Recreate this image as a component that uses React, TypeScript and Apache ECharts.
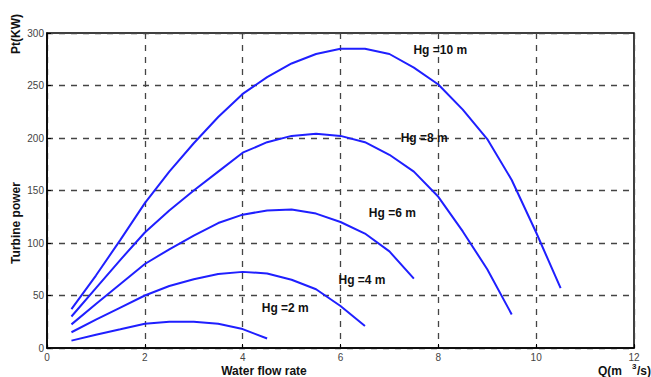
import React, { useEffect, useRef } from "react";
import * as echarts from "echarts";

const flowRates = [0.5, 1, 1.5, 2, 2.5, 3, 3.5, 4, 4.5, 5, 5.5, 6, 6.5, 7, 7.5, 8, 8.5, 9, 9.5, 10, 10.5];

const hg10 = [37, 69, 103, 138, 168, 195, 220, 242, 258, 271, 280, 285, 285, 280, 267, 251, 227, 199, 160, 110, 57];
const hg8 = [30, 57, 84, 110, 131, 150, 168, 186, 196, 202, 204, 202, 196, 184, 168, 144, 111, 75, 32];
const hg6 = [22.5, 42, 61, 80, 94, 107, 119, 127, 131, 132, 128, 120, 109, 92, 66];
const hg4 = [15, 27, 38.5, 50, 59, 65.5, 70.5, 72.5, 71, 65, 56, 40, 21];
const hg2 = [7, 12.7, 17.8, 23, 25, 25, 23, 18, 9];

const seriesNames = ["Hg =10 m", "Hg =8 m", "Hg =6 m", "Hg =4 m", "Hg =2 m"];
const seriesValues = [hg10, hg8, hg6, hg4, hg2];
const labelCoords: [number, number][] = [
  [8.04, 284],
  [7.71, 200],
  [7.06, 129],
  [6.44, 65],
  [4.87, 38],
];

const xTicks = [0, 2, 4, 6, 8, 10, 12];

export default function App() {
  const ref = useRef<HTMLDivElement>(null);
  useEffect(() => {
    document.body.style.margin = "0";
    if (!ref.current) return;
    const chart = echarts.init(ref.current, null, { renderer: "svg" });
    const font = "'Liberation Sans', Arial, sans-serif";
    const series = seriesValues.map((vals, i) => ({
      type: "line",
      name: seriesNames[i],
      data: vals.map((v, j) => [flowRates[j], v]),
      showSymbol: false,
      smooth: false,
      lineStyle: { color: "#1f1fff", width: 2 },
      markPoint: {
        symbol: "circle",
        symbolSize: 0,
        silent: true,
        label: {
          show: true,
          position: "inside",
          formatter: seriesNames[i],
          color: "#111",
          fontSize: 12,
          fontWeight: "bold",
          fontFamily: font,
        },
        data: [{ coord: labelCoords[i] }],
      },
    }));
    chart.setOption({
      animation: false,
      backgroundColor: "#fff",
      grid: {
        left: 47,
        right: 17,
        top: 33,
        bottom: 29,
        show: true,
        borderColor: "#000",
        borderWidth: 1.5,
      },
      xAxis: {
        type: "value",
        min: 0,
        max: 12,
        interval: 2,
        axisLine: { show: true, lineStyle: { color: "#000", width: 1.5 } },
        axisTick: { show: true, inside: true, length: 4, lineStyle: { color: "#000" } },
        axisLabel: {
          color: "#444",
          fontSize: 10,
          fontFamily: font,
          margin: 4,
          formatter: (v: number) => (xTicks.includes(v) ? String(v) : ""),
        },
        splitLine: {
          show: true,
          lineStyle: { color: "#444", type: [6, 6], width: 1.3 },
        },
      },
      yAxis: {
        type: "value",
        min: 0,
        max: 300,
        interval: 50,
        axisLine: { show: true, lineStyle: { color: "#000", width: 1.5 } },
        axisTick: { show: true, inside: true, length: 4, lineStyle: { color: "#000" } },
        axisLabel: { color: "#444", fontSize: 10, fontFamily: font, margin: 3 },
        splitLine: {
          show: true,
          lineStyle: { color: "#444", type: [6, 6], width: 1.3 },
        },
      },
      graphic: [
        {
          type: "text",
          x: 16,
          y: 223,
          rotation: Math.PI / 2,
          style: {
            text: "Turbine power",
            font: `bold 12px ${font}`,
            fill: "#111",
            align: "center",
            verticalAlign: "middle",
          },
        },
        {
          type: "text",
          x: 16,
          y: 34,
          rotation: Math.PI / 2,
          style: {
            text: "Pt(KW)",
            font: `bold 12px ${font}`,
            fill: "#111",
            align: "center",
            verticalAlign: "middle",
          },
        },
        {
          type: "text",
          x: 264,
          y: 371,
          style: {
            text: "Water flow rate",
            font: `bold 12px ${font}`,
            fill: "#111",
            align: "center",
            verticalAlign: "middle",
          },
        },
        {
          type: "text",
          x: 598,
          y: 371,
          style: {
            text: "Q(m",
            font: `bold 12px ${font}`,
            fill: "#111",
            align: "left",
            verticalAlign: "middle",
          },
        },
        {
          type: "text",
          x: 632,
          y: 366,
          style: {
            text: "3",
            font: `bold 8px ${font}`,
            fill: "#111",
            align: "left",
            verticalAlign: "middle",
          },
        },
        {
          type: "text",
          x: 637,
          y: 371,
          style: {
            text: "/s)",
            font: `bold 12px ${font}`,
            fill: "#111",
            align: "left",
            verticalAlign: "middle",
          },
        },
      ],
      series,
    });
    return () => chart.dispose();
  }, []);
  return <div ref={ref} style={{ width: 651, height: 377 }} />;
}
